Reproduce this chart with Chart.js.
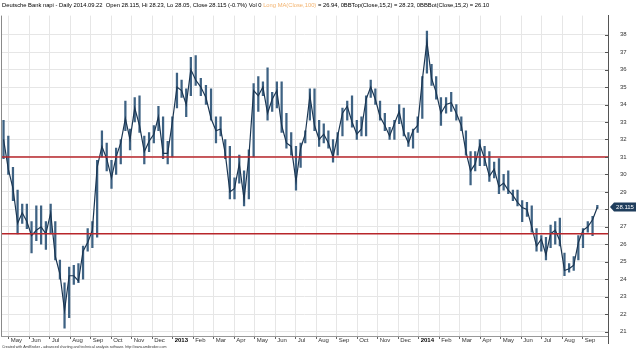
<!DOCTYPE html>
<html>
<head>
<meta charset="utf-8">
<script src="https://cdn.jsdelivr.net/npm/chart.js@4.4.1/dist/chart.umd.min.js"></script>
<style>
  html, body { margin: 0; padding: 0; background: #fff; }
</style>
</head>
<body>
<canvas id="c" width="638" height="360"></canvas>
<script>
// weekly bars, first week starts Monday 2012-04-23
const firstMonday = [2012, 3, 23];
const highs = [
  33.1, 32.2, 30.4, 29.1, 28.3, 28.3, 27.3, 28.2, 28.2, 27.3,
  28.3, 27.3, 25.1, 23.8, 24.7, 24.8, 24.9, 25.9, 26.9, 27.3,
  30.8, 32.5, 31.8, 30.8, 31.5, 32.0, 34.2, 32.6, 34.4, 34.5,
  32.2, 32.4, 32.8, 33.9, 33.3, 31.9, 33.3, 35.8, 35.4, 34.9,
  36.7, 36.8, 35.5, 35.1, 34.9, 33.3, 33.3, 32.0, 31.6, 29.8,
  31.1, 30.2, 31.4, 35.2, 35.6, 35.3, 36.1, 34.7, 35.3, 35.3,
  33.5, 32.4, 31.6, 31.8, 32.5, 34.9, 34.9, 33.1, 32.9, 32.5,
  32.0, 32.4, 33.8, 34.2, 34.5, 33.1, 33.3, 34.5, 35.4, 34.9,
  34.2, 33.5, 32.7, 33.1, 34.0, 33.8, 32.4, 32.6, 33.3, 35.6,
  38.2, 36.3, 35.6, 34.4, 34.4, 34.7, 34.0, 33.3, 32.5, 31.3,
  31.3, 32.0, 31.6, 31.3, 30.7, 30.9, 30.0, 30.2, 29.1, 29.1,
  28.5, 28.4, 28.2, 26.9, 26.5, 26.4, 27.1, 27.3, 27.5, 25.5,
  24.9, 25.3, 26.5, 26.9, 27.3, 27.6, 28.23
];
const lows = [
  30.9, 30.0, 28.5, 26.6, 27.2, 26.9, 25.5, 26.2, 26.0, 25.7,
  26.6, 25.1, 24.0, 21.2, 21.8, 23.7, 23.8, 24.0, 25.6, 25.8,
  26.4, 31.0, 30.2, 29.2, 30.0, 30.6, 32.5, 31.4, 33.0, 32.4,
  30.6, 31.3, 31.8, 32.5, 30.9, 30.6, 31.0, 33.8, 34.4, 33.3,
  34.5, 35.1, 34.5, 34.0, 33.1, 31.8, 32.2, 30.9, 28.6, 28.6,
  29.5, 28.2, 28.6, 31.0, 33.6, 34.5, 33.1, 33.6, 33.8, 32.4,
  31.5, 31.1, 29.1, 30.4, 31.8, 33.1, 32.5, 31.6, 31.8, 31.5,
  30.7, 31.1, 32.2, 33.1, 32.7, 32.0, 32.2, 32.2, 34.4, 34.0,
  33.1, 32.5, 32.0, 32.0, 32.9, 32.2, 31.6, 31.5, 32.4, 33.2,
  35.8, 35.1, 34.3, 32.8, 33.5, 33.6, 33.1, 32.5, 31.1, 29.4,
  30.2, 30.5, 30.5, 29.6, 29.8, 28.9, 29.1, 28.9, 28.5, 28.2,
  27.3, 27.6, 26.7, 25.6, 25.6, 25.1, 25.8, 26.0, 25.9, 24.2,
  24.4, 24.5, 25.1, 25.8, 26.7, 26.5, 28.05
];
const closes = [
  32.0, 30.3, 29.2, 27.2, 27.8, 27.3, 26.5, 26.8, 27.0, 26.6,
  27.8, 25.3, 24.3, 22.2, 24.2, 24.2, 23.9, 25.6, 26.1, 26.8,
  30.4, 31.6, 30.9, 29.8, 31.0, 31.8, 33.2, 32.0, 33.8, 32.8,
  31.3, 31.9, 32.3, 33.3, 31.2, 31.2, 33.0, 35.0, 34.8, 34.0,
  36.0, 35.4, 35.0, 34.4, 33.2, 32.5, 32.6, 31.2, 29.0, 29.2,
  30.6, 28.6, 31.0, 34.8, 34.5, 35.0, 33.5, 34.3, 34.8, 32.8,
  31.8, 31.6, 29.6, 31.5, 32.3, 34.5, 32.8, 32.0, 32.3, 31.8,
  31.0, 32.2, 33.5, 33.9, 33.0, 32.3, 32.6, 34.3, 35.0, 34.3,
  33.3, 32.8, 32.2, 32.9, 33.6, 32.4, 31.8, 32.5, 32.8, 35.4,
  37.6, 35.5, 34.7, 33.5, 34.0, 34.1, 33.5, 32.8, 31.3, 30.2,
  30.6, 31.7, 30.9, 29.9, 30.3, 29.3, 29.5, 29.1, 28.8, 28.4,
  28.1, 28.0, 27.0, 25.9, 26.3, 25.4, 26.6, 26.8, 26.2, 24.5,
  24.6, 24.8, 26.1, 26.8, 27.0, 27.4, 28.115
];

// month ticks, 0 = May 2012
const monthLabels = [
  'May', 'Jun', 'Jul', 'Aug', 'Sep', 'Oct', 'Nov', 'Dec', '2013',
  'Feb', 'Mar', 'Apr', 'May', 'Jun', 'Jul', 'Aug', 'Sep', 'Oct', 'Nov', 'Dec', '2014',
  'Feb', 'Mar', 'Apr', 'May', 'Jun', 'Jul', 'Aug', 'Sep'
];
const yTickValues = [21, 22, 23, 24, 25, 26, 27, 28, 29, 30, 31, 32, 33, 34, 35, 36, 37, 38];
const levels = [31.0, 26.6];
const lastPrice = 28.115;

const titleBlack = 'Deutsche Bank napi - Daily 2014.09.22  Open 28.115, Hi 28.23, Lo 28.05, Close 28.115 (-0.7%) Vol 0 ';
const titleOrange = 'Long MA(Close,100)';
const titleRest = ' = 26.94, 0BBTop(Close,15,2) = 28.23, 0BBBot(Close,15,2) = 26.10';
const footerText = 'Created with AmiBroker - advanced charting and technical analysis software. http://www.amibroker.com';

const FONT = '"Liberation Sans", Arial, sans-serif';
const X_MIN = -0.39, X_MAX = 29.22;

// date -> fractional month since May 2012
function monthPos(d) {
  const dim = new Date(d.getFullYear(), d.getMonth() + 1, 0).getDate();
  return (d.getFullYear() - 2012) * 12 + d.getMonth() - 4 + (d.getDate() - 1) / dim;
}
const weekX = highs.map((_, i) => monthPos(new Date(firstMonday[0], firstMonday[1], firstMonday[2] + 7 * i)));

const decor = {
  id: 'decor',
  afterDraw(chart) {
    const ctx = chart.ctx;
    const a = chart.chartArea;
    const ys = chart.scales.y;
    ctx.save();
    // frame
    ctx.strokeStyle = '#8a8a8a';
    ctx.lineWidth = 1;
    ctx.beginPath();
    ctx.moveTo(a.left + 0.5, a.top);
    ctx.lineTo(a.left + 0.5, a.bottom);
    ctx.stroke();
    ctx.strokeStyle = '#555';
    ctx.beginPath();
    ctx.moveTo(a.right + 0.5, a.top);
    ctx.lineTo(a.right + 0.5, a.bottom + 8);
    ctx.stroke();
    // y tick marks
    yTickValues.forEach(v => {
      const y = Math.round(ys.getPixelForValue(v)) + 0.5;
      ctx.beginPath();
      ctx.moveTo(a.right - 3, y);
      ctx.lineTo(a.right, y);
      ctx.stroke();
    });

    // title
    ctx.font = '5.8px ' + FONT;
    ctx.textBaseline = 'middle';
    ctx.textAlign = 'left';
    let x = 2;
    ctx.fillStyle = '#000';
    ctx.fillText(titleBlack, x, 5);
    x += ctx.measureText(titleBlack).width;
    ctx.fillStyle = '#f3b36e';
    ctx.fillText(titleOrange, x, 5);
    x += ctx.measureText(titleOrange).width;
    ctx.fillStyle = '#000';
    ctx.fillText(titleRest, x, 5);

    // footer
    ctx.font = '3.6px ' + FONT;
    ctx.fillStyle = '#333';
    ctx.fillText(footerText, 2, 346.5);

    // last price tag
    const py = Math.round(ys.getPixelForValue(lastPrice));
    ctx.fillStyle = '#1f3d5c';
    ctx.beginPath();
    ctx.moveTo(a.right + 2, py);
    ctx.lineTo(a.right + 6, py - 4.5);
    ctx.lineTo(a.right + 28, py - 4.5);
    ctx.lineTo(a.right + 28, py + 4.5);
    ctx.lineTo(a.right + 6, py + 4.5);
    ctx.closePath();
    ctx.fill();
    ctx.fillStyle = '#fff';
    ctx.font = '6px ' + FONT;
    ctx.textAlign = 'center';
    ctx.fillText(lastPrice.toFixed(3), a.right + 17, py + 0.5);
    ctx.restore();
  }
};

new Chart(document.getElementById('c').getContext('2d'), {
  type: 'bar',
  data: {
    datasets: [
      {
        type: 'bar',
        data: highs.map((h, i) => ({ x: weekX[i], y: [lows[i], h] })),
        backgroundColor: '#3e6283',
        barThickness: 1.6,
        order: 2
      },
      {
        type: 'line',
        data: closes.map((c, i) => ({ x: weekX[i], y: c })),
        borderColor: '#1b3652',
        borderWidth: 1.2,
        pointRadius: 0,
        tension: 0,
        order: 1
      },
      ...levels.map(l => ({
        type: 'line',
        data: [{ x: X_MIN, y: l }, { x: X_MAX, y: l }],
        borderColor: '#b8262b',
        borderWidth: 1.4,
        pointRadius: 0,
        order: 0
      }))
    ]
  },
  options: {
    responsive: false,
    animation: false,
    devicePixelRatio: 1,
    layout: { padding: { left: 1, top: 0, right: 0, bottom: 0 } },
    plugins: {
      legend: { display: false },
      tooltip: { enabled: false }
    },
    scales: {
      x: {
        type: 'linear',
        min: X_MIN,
        max: X_MAX,
        offset: false,
        afterBuildTicks: (s) => { s.ticks = monthLabels.map((_, i) => ({ value: i })); },
        afterFit: (s) => { s.height = 24; },
        grid: { color: '#e6e6e6', offset: false, tickColor: '#666', tickLength: 3 },
        border: { color: '#999' },
        ticks: {
          autoSkip: false,
          maxRotation: 0,
          align: 'start',
          padding: -2,
          color: (c) => /^\d{4}$/.test(monthLabels[c.index] || '') ? '#000' : '#333',
          font: (c) => ({ family: FONT, size: 6, weight: /^\d{4}$/.test(monthLabels[c.index] || '') ? 'bold' : 'normal' }),
          callback: (v) => ' ' + monthLabels[Math.round(v)]
        }
      },
      y: {
        position: 'right',
        min: 20.75,
        max: 39.09,
        afterBuildTicks: (s) => { s.ticks = yTickValues.map(v => ({ value: v })); },
        afterFit: (s) => { s.width = 30; },
        grid: { color: '#e6e6e6', drawTicks: false },
        border: { color: '#555' },
        ticks: {
          padding: 12,
          color: '#333',
          font: { family: FONT, size: 6 }
        }
      }
    }
  },
  plugins: [decor]
});
</script>
</body>
</html>
